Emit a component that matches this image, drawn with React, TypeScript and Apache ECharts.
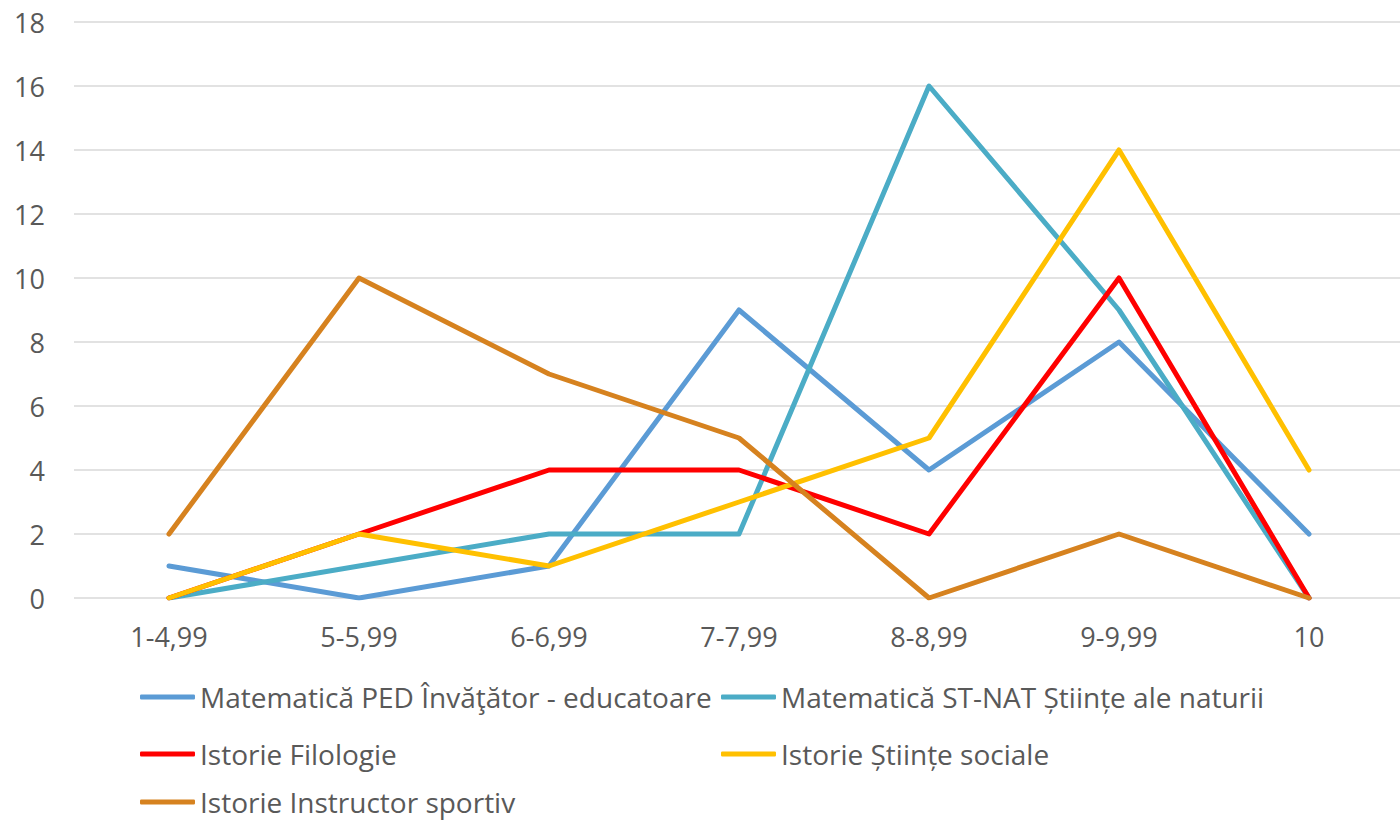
import React, { useEffect, useRef } from "react";
import * as echarts from "echarts";

const categories = ["1-4,99", "5-5,99", "6-6,99", "7-7,99", "8-8,99", "9-9,99", "10"];
const seriesNames = [
  "Matematică PED Învăţător - educatoare",
  "Matematică ST-NAT Științe ale naturii",
  "Istorie Filologie",
  "Istorie Științe sociale",
  "Istorie Instructor sportiv",
];
const matPed = [1, 0, 1, 9, 4, 8, 2];
const matStNat = [0, 1, 2, 2, 16, 9, 0];
const istFilologie = [0, 2, 4, 4, 2, 10, 0];
const istSociale = [0, 2, 1, 3, 5, 14, 4];
const istSportiv = [2, 10, 7, 5, 0, 2, 0];
const colors = ["#5B9BD5", "#4BACC6", "#FF0000", "#FFC000", "#D6821F"];
const yTicks = { min: 0, max: 18, interval: 2 };

const FONT = "'Open Sans', sans-serif";
const TEXT = "#595959";

export default function App() {
  const ref = useRef<HTMLDivElement>(null);
  useEffect(() => {
    if (!ref.current) return;
    const chart = echarts.init(ref.current, null, { renderer: "svg" });
    const values = [matPed, matStNat, istFilologie, istSociale, istSportiv];
    const legendPos = [
      { left: 140, top: 700 },
      { left: 721, top: 700 },
      { left: 140, top: 757 },
      { left: 721, top: 757 },
      { left: 140, top: 805 },
    ];
    chart.setOption({
      animation: false,
      color: colors,
      textStyle: { fontFamily: FONT },
      grid: { left: 74, top: 22, width: 1330, height: 576, containLabel: false },
      xAxis: {
        type: "category",
        data: categories,
        boundaryGap: true,
        axisLine: { show: false },
        axisTick: { show: false },
        axisLabel: { color: TEXT, fontSize: 27, fontFamily: FONT, margin: 25 },
      },
      yAxis: {
        type: "value",
        min: yTicks.min,
        max: yTicks.max,
        interval: yTicks.interval,
        axisLine: { show: false },
        axisTick: { show: false },
        axisLabel: { color: TEXT, fontSize: 27, fontFamily: FONT, margin: 29 },
        splitLine: { lineStyle: { color: "#D9D9D9", width: 1.5 } },
      },
      legend: seriesNames.map((n, i) => ({
        data: [n],
        left: legendPos[i].left,
        top: legendPos[i].top - 17,
        orient: "horizontal",
        padding: 0,
        itemWidth: 55,
        itemHeight: 5,
        icon: "roundRect",
        textStyle: { color: TEXT, fontSize: 28, fontFamily: FONT, padding: [0, 0, 0, 0] },
        selectedMode: false,
      })),
      series: seriesNames.map((n, i) => ({
        name: n,
        type: "line",
        data: values[i],
        symbol: "none",
        lineStyle: { width: 5, color: colors[i], cap: "round", join: "round" },
        itemStyle: { color: colors[i] },
      })),
    });
    return () => chart.dispose();
  }, []);
  return (
    <div
      style={{ position: "absolute", left: 0, top: 0, width: 1400, height: 824, overflow: "hidden", background: "#fff" }}
    >
      <div ref={ref} style={{ width: 1410, height: 824 }} />
    </div>
  );
}
